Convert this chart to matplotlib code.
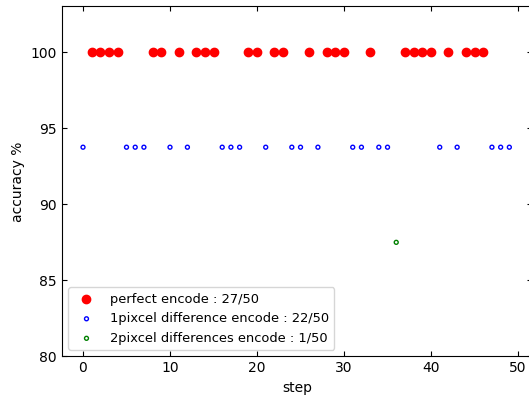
import matplotlib
matplotlib.use("Agg")
import matplotlib.pyplot as plt

# steps for each outcome
perfect_steps = [1, 2, 3, 4, 8, 9, 11, 13, 14, 15, 19, 20, 22, 23, 26, 28, 29, 30,
                 33, 37, 38, 39, 40, 42, 44, 45, 46]
one_pixel_steps = [0, 5, 6, 7, 10, 12, 16, 17, 18, 21, 24, 25, 27, 31, 32, 34, 35,
                   41, 43, 47, 48, 49]
two_pixel_steps = [36]

perfect_acc = [100.0] * len(perfect_steps)
one_pixel_acc = [93.75] * len(one_pixel_steps)
two_pixel_acc = [87.5] * len(two_pixel_steps)

total = 50

plt.rcParams["xtick.direction"] = "in"
plt.rcParams["ytick.direction"] = "in"
plt.rcParams["xtick.top"] = True
plt.rcParams["ytick.right"] = True

fig = plt.figure(figsize=(5.29, 4.01), dpi=100)
ax = fig.add_axes([0.1166, 0.111, 0.889, 0.873])

ax.scatter(perfect_steps, perfect_acc, c="r", s=36,
           label="perfect encode : {}/{}".format(len(perfect_steps), total))
ax.scatter(one_pixel_steps, one_pixel_acc, facecolors="none", edgecolors="b", s=8,
           label="1pixcel difference encode : {}/{}".format(len(one_pixel_steps), total))
ax.scatter(two_pixel_steps, two_pixel_acc, facecolors="none", edgecolors="g", s=8,
           label="2pixcel differences encode : {}/{}".format(len(two_pixel_steps), total))

ax.set_xlim(-2.45, 51.6)
ax.set_ylim(80, 103)
ax.set_xticks([0, 10, 20, 30, 40, 50])
ax.set_yticks([80, 85, 90, 95, 100])
ax.set_xlabel("step")
ax.set_ylabel("accuracy %")
ax.legend(loc="lower left", fontsize=9.4)

fig.savefig("out.png", dpi=100)
plt.close(fig)
